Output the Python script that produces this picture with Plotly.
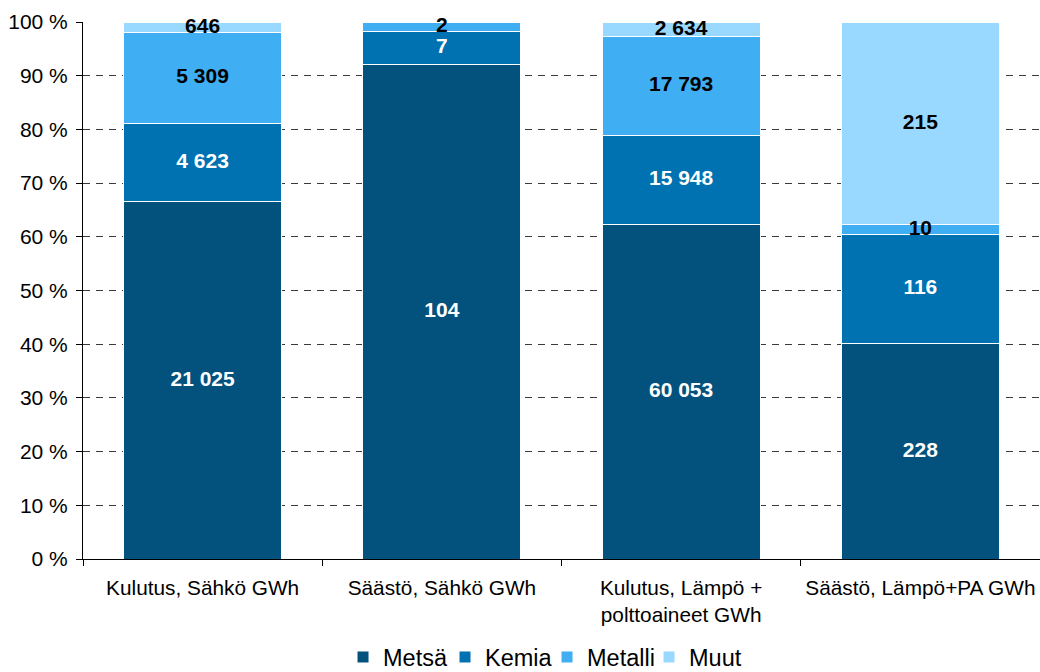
import plotly.graph_objects as go

# Energy use and savings by industry sector
categories = [
    "Kulutus, Sähkö GWh",
    "Säästö, Sähkö GWh",
    "Kulutus, Lämpö +<br>polttoaineet GWh",
    "Säästö, Lämpö+PA GWh",
]
metsa = [21025, 104, 60053, 228]
kemia = [4623, 7, 15948, 116]
metalli = [5309, 2, 17793, 10]
muut = [646, None, 2634, 215]

y_ticks = [0, 10, 20, 30, 40, 50, 60, 70, 80, 90, 100]

series = [
    ("Metsä", metsa, "#02527D", "white"),
    ("Kemia", kemia, "#0071B1", "white"),
    ("Metalli", metalli, "#3FAEF3", "black"),
    ("Muut", muut, "#99D9FF", "black"),
]

FONT = "Liberation Sans, Arial, sans-serif"


def fmt(v):
    # thousands separated by a space
    return f"{v:,}".replace(",", " ")


totals = [sum(s[1][i] or 0 for s in series) for i in range(len(categories))]

fig = go.Figure()
for name, vals, color, _ in series:
    fig.add_trace(go.Bar(
        name=name,
        x=categories,
        y=vals,
        marker=dict(color=color, line=dict(color="white", width=1)),
        hoverinfo="skip",
    ))

# value labels centred in each stacked segment (share of the category total)
base = [0.0] * len(categories)
for name, vals, _, txtcolor in series:
    xs, ys, ts = [], [], []
    for i, v in enumerate(vals):
        if not v:
            continue
        xs.append(categories[i])
        ys.append((base[i] + v / 2) / totals[i] * 100)
        ts.append(fmt(v))
        base[i] += v
    fig.add_trace(go.Scatter(
        x=xs, y=ys, text=ts, mode="text",
        textposition="middle center",
        textfont=dict(family=FONT, size=21, color=txtcolor, weight="bold"),
        cliponaxis=False,
        showlegend=False,
        hoverinfo="skip",
    ))

fig.update_layout(
    barmode="stack",
    barnorm="percent",
    bargap=0.34,
    width=1040,
    height=672,
    margin=dict(l=83, r=0, t=22, b=113),
    paper_bgcolor="white",
    plot_bgcolor="white",
    font=dict(family=FONT, size=21, color="black"),
    showlegend=True,
    legend=dict(
        orientation="h",
        x=0.2717,
        xanchor="left",
        yref="container",
        y=0.022,
        yanchor="middle",
        font=dict(family=FONT, size=23.5, color="black"),
        traceorder="normal",
        itemwidth=30,
        entrywidth=57,
        entrywidthmode="pixels",
    ),
)

fig.update_xaxes(
    showline=True,
    linecolor="black",
    linewidth=1,
    ticks="outside",
    tickson="boundaries",
    ticklen=6,
    tickcolor="black",
    tickangle=0,
    automargin=False,
    ticklabelstandoff=10,
    showgrid=False,
    tickfont=dict(family=FONT, size=20.8, color="black"),
)

fig.update_yaxes(
    range=[0, 100],
    tickvals=y_ticks,
    ticktext=[f"{t} %" for t in y_ticks],
    showline=True,
    linecolor="black",
    linewidth=1,
    ticks="outside",
    ticklen=6,
    tickcolor="black",
    automargin=False,
    ticklabelstandoff=4,
    showgrid=True,
    gridcolor="#3a3a3a",
    gridwidth=1,
    griddash="7px,6px",
    zeroline=False,
    tickfont=dict(family=FONT, size=21, color="black"),
)

fig.write_html("out.html")
